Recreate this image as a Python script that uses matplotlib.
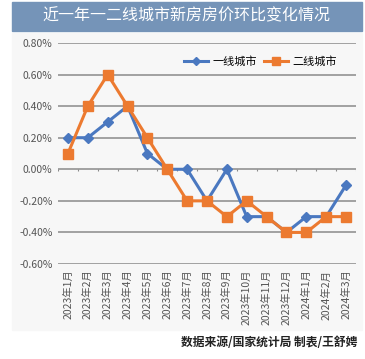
import matplotlib.pyplot as plt
from matplotlib.patches import Rectangle

plt.rcParams['font.family'] = ['Noto Sans CJK SC', 'DejaVu Sans']

# 数据
meses = ["2023年1月", "2023年2月", "2023年3月", "2023年4月", "2023年5月",
         "2023年6月", "2023年7月", "2023年8月", "2023年9月", "2023年10月",
         "2023年11月", "2023年12月", "2024年1月", "2024年2月", "2024年3月"]
yixian = [0.2, 0.2, 0.3, 0.4, 0.1, 0.0, 0.0, -0.2, 0.0, -0.3, -0.3, -0.4, -0.3, -0.3, -0.1]
erxian = [0.1, 0.4, 0.6, 0.4, 0.2, 0.0, -0.2, -0.2, -0.3, -0.2, -0.3, -0.4, -0.4, -0.3, -0.3]
yticks = [0.8, 0.6, 0.4, 0.2, 0.0, -0.2, -0.4, -0.6]

azul = "#4a78c0"
naranja = "#ec7a30"

fig = plt.figure(figsize=(3.65, 3.59), dpi=100)

# banda del título
fig.patches.append(Rectangle((12 / 365, 1 - 31 / 359), 350 / 365, 29 / 359,
                             transform=fig.transFigure, color="#7594b8", zorder=-1))
fig.text(0.51, 1 - 16 / 359, "近一年一二线城市新房房价环比变化情况",
         ha="center", va="center", color="white", fontsize=11.5)

# fondo del gráfico
fig.patches.append(Rectangle((12 / 365, 1 - 330 / 359), 350 / 365, 297 / 359,
                             transform=fig.transFigure, color="#f7f7f7", zorder=-1))

ax = fig.add_axes([58 / 365, 95 / 359, 298 / 365, 221 / 359])
ax.set_zorder(2)
ax.set_facecolor("none")
x = list(range(len(meses)))

ax.plot(x, yixian, color=azul, lw=2.2, marker="D", ms=5, label="一线城市", zorder=3)
ax.plot(x, erxian, color=naranja, lw=2.2, marker="s", ms=7, label="二线城市", zorder=4)

ax.set_ylim(-0.6, 0.8)
ax.set_xlim(-0.5, len(meses) - 0.5)
ax.set_yticks(yticks)
ax.set_yticklabels([f"{v:.2f}%" for v in yticks], color="#555555", fontsize=7.5)
for v in yticks:
    ax.axhline(v, color="#8a8a8a", lw=1.1, zorder=1)
ax.vlines([i - 0.5 for i in range(len(meses) + 1)], -0.012, 0, color="#8a8a8a", lw=0.8)

ax.set_xticks(x)
ax.set_xticklabels(meses, rotation=90, color="#555555", fontsize=7.5)
ax.tick_params(length=0, pad=4)
for s in ax.spines.values():
    s.set_visible(False)

ax.legend(loc="upper right", bbox_to_anchor=(0.97, 0.985), ncol=2, frameon=False,
          fontsize=8, handlelength=2.2, columnspacing=0.6, handletextpad=0.4,
          markerscale=0.8)

fig.text(357 / 365, 1 - 343 / 359, "数据来源/国家统计局 制表/王舒娉",
         ha="right", va="center", fontsize=8.5, color="#222222", fontweight="bold")

fig.savefig("out.png", dpi=100)
